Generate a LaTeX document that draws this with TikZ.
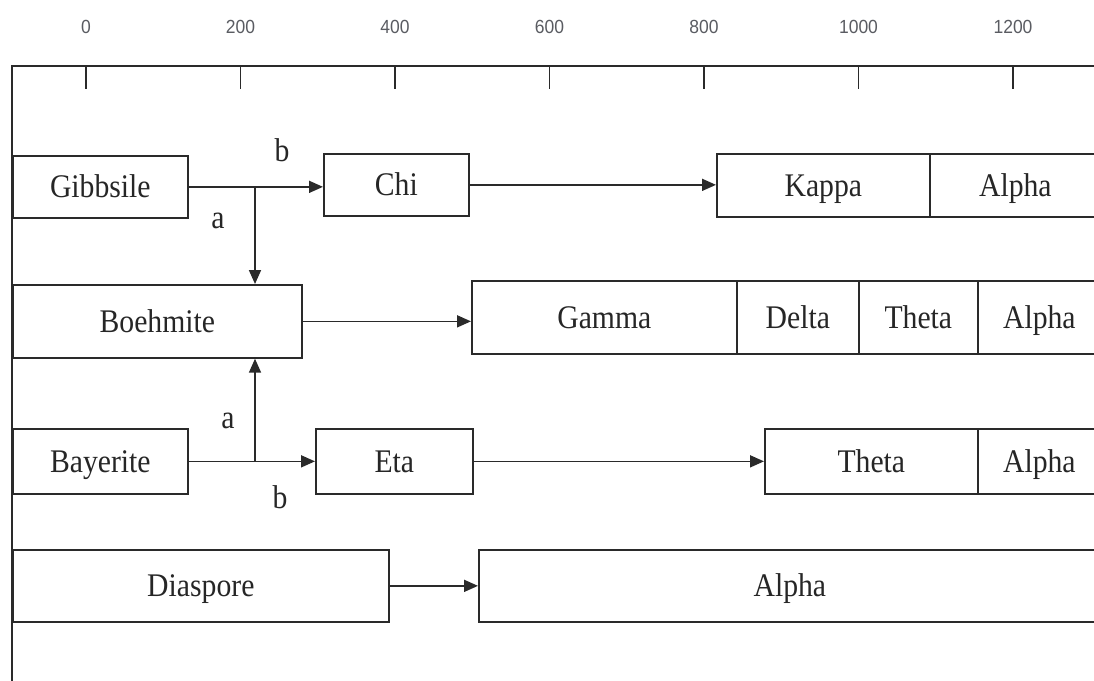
\documentclass[tikz,border=0pt]{standalone}
\usepackage{fontspec}
\setmainfont{Liberation Serif}[FakeStretch=0.9]
\newfontfamily\axisfont{Liberation Sans}[FakeStretch=0.92]
\usetikzlibrary{arrows.meta}
\definecolor{linec}{HTML}{2A2A2A}
\definecolor{axtxt}{HTML}{5A5C62}
\tikzset{
  ln/.style={draw=linec, line width=1.7pt},
  box/.style={ln, inner sep=0pt, anchor=north west, text height=22pt, text depth=0pt,
    font=\fontsize{33}{36}\selectfont, text=black!85},
  lbl/.style={inner sep=0pt, font=\fontsize{33}{36}\selectfont, text=black!85},
  axlbl/.style={inner sep=0pt, font=\axisfont\fontsize{19}{22}\selectfont, text=axtxt},
  arr/.style={ln, -{Triangle[length=14pt,width=12pt]}},
}
\begin{document}
\begin{tikzpicture}[x=1pt,y=-1pt]
\useasboundingbox (0,0) rectangle (1094,680);
\clip (0,0) rectangle (1094,680);
% frame / axis
\coordinate (axL) at (12,66);
\coordinate (axR) at (1100,66);
\coordinate (axB) at (12,690);
\draw[ln] (axB) -- (axL) -- (axR);
\foreach \v/\x in {0/86,200/240.5,400/395,600/549.5,800/704,1000/858.5,1200/1013}{
  \coordinate (t\v) at (\x,66);
  \draw[ln] (t\v) -- ++(0,23);
  \node[axlbl] (l\v) at (\x,27) {\v};
}
% row 1
\node[box, minimum width=175pt, minimum height=62pt] (gib) at (12,155) {Gibbsile};
\node[box, minimum width=145pt, minimum height=62pt] (chi) at (323,153) {Chi};
\node[box, minimum width=213pt, minimum height=63pt] (kap) at (716,153) {Kappa};
\node[box, minimum width=171pt, minimum height=63pt] (alk) at (929,153) {Alpha};
% row 2
\node[box, minimum width=289pt, minimum height=73pt] (boe) at (12,284) {Boehmite};
\node[box, minimum width=265pt, minimum height=73pt] (gam) at (471,280) {Gamma};
\node[box, minimum width=122pt, minimum height=73pt] (del) at (736,280) {Delta};
\node[box, minimum width=119pt, minimum height=73pt] (the) at (858,280) {Theta};
\node[box, minimum width=123pt, minimum height=73pt] (alb) at (977,280) {Alpha};
% row 3
\node[box, minimum width=175pt, minimum height=65pt] (bay) at (12,428) {Bayerite};
\node[box, minimum width=157pt, minimum height=65pt] (eta) at (315,428) {Eta};
\node[box, minimum width=213pt, minimum height=65pt] (thc) at (764,428) {Theta};
\node[box, minimum width=123pt, minimum height=65pt] (alc) at (977,428) {Alpha};
% row 4
\node[box, minimum width=376pt, minimum height=72pt] (dia) at (12,549) {Diaspore};
\node[box, minimum width=622pt, minimum height=72pt] (ald) at (478,549) {Alpha};
% connectors
\coordinate (j1) at (255,186);
\coordinate (j2) at (255,461);
\draw[arr] (gib.east) -- (gib.east -| chi.west);
\draw[arr] (j1) -- (j1 |- boe.north);
\draw[arr] (chi.east) -- (chi.east -| kap.west);
\draw[arr] (boe.east) -- (boe.east -| gam.west);
\draw[arr] (bay.east) -- (bay.east -| eta.west);
\draw[arr] (j2) -- (j2 |- boe.south);
\draw[arr] (eta.east) -- (eta.east -| thc.west);
\draw[arr] (dia.east) -- (dia.east -| ald.west);
% labels
\node[lbl] (b1) at (282,150) {b};
\node[lbl] (a1) at (218,221) {a};
\node[lbl] (a2) at (228,421) {a};
\node[lbl] (b2) at (280,497) {b};
\end{tikzpicture}
\end{document}
